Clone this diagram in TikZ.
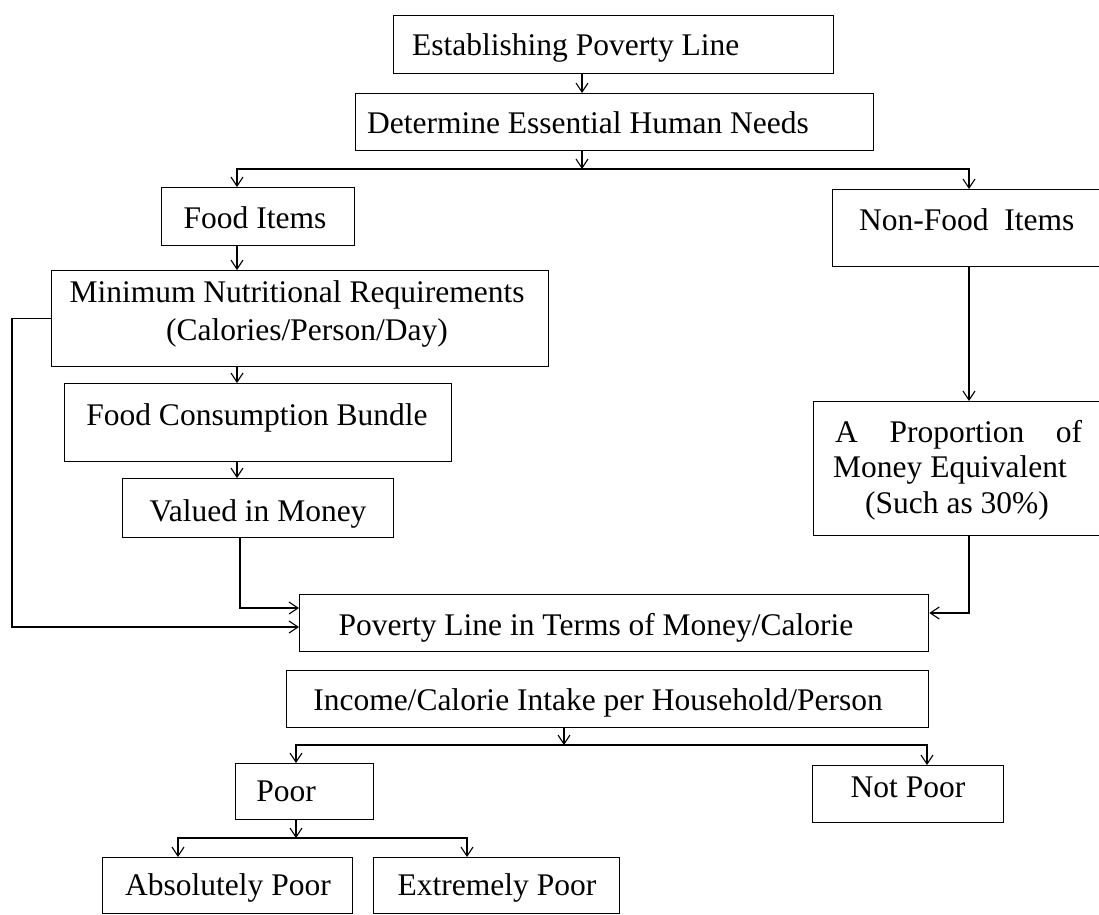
\documentclass[tikz,border=0pt]{standalone}
\usepackage{fontspec}
\setmainfont{Liberation Serif}
\usetikzlibrary{arrows.meta,calc}
\begin{document}
\begin{tikzpicture}[x=1pt,y=-1pt,
  box/.style={draw, line width=1.3pt, inner sep=0pt, anchor=north west},
  lbl/.style={inner sep=0pt, font=\fontsize{31.5}{37}\selectfont, anchor=base},
  conn/.style={line width=1.3pt, -{Straight Barb[length=9pt,width=12pt,line width=1.1pt]}}]
\useasboundingbox (0,0) rectangle (1099,914);

% boxes (top-left corner, width, height)
\node[box, minimum width=440pt, minimum height=58pt] (b1) at (393,15) {};
\node[box, minimum width=518pt, minimum height=57pt] (b2) at (355,93) {};
\node[box, minimum width=193pt, minimum height=58pt] (food) at (161,187) {};
\node[box, minimum width=280pt, minimum height=77pt] (nonfood) at (832,189) {};
\node[box, minimum width=497pt, minimum height=96pt] (mnr) at (51,270) {};
\node[box, minimum width=387pt, minimum height=78pt] (fcb) at (64,383) {};
\node[box, minimum width=271pt, minimum height=59pt] (vim) at (122,478) {};
\node[box, minimum width=300pt, minimum height=134pt] (aprop) at (813,401) {};
\node[box, minimum width=629pt, minimum height=57pt] (pl) at (299,594) {};
\node[box, minimum width=642pt, minimum height=57pt] (inc) at (286,670) {};
\node[box, minimum width=138pt, minimum height=56pt] (poor) at (235,763) {};
\node[box, minimum width=191pt, minimum height=57pt] (notpoor) at (812,765) {};
\node[box, minimum width=250pt, minimum height=56pt] (abs) at (102,857) {};
\node[box, minimum width=246pt, minimum height=56pt] (ext) at (373,857) {};

% box texts
\node[lbl, anchor=base west] (t1) at (412,55) {Establishing Poverty Line};
\node[lbl] (t2) at (588,133) {Determine Essential Human Needs};
\node[lbl] (tfood) at (255,228) {Food Items};
\node[lbl, anchor=base west] (tnon) at (859,230) {Non-Food\ \ Items};
\node[lbl] (tmnr1) at (297,302) {Minimum Nutritional Requirements};
\node[lbl] (tmnr2) at (307,340) {(Calories/Person/Day)};
\node[lbl] (tfcb) at (257,425) {Food Consumption Bundle};
\node[lbl] (tvim) at (258,521) {Valued in Money};
\node[lbl, anchor=base west] (ta1) at (835,442) {\hbox to 247pt{A\hfill Proportion\hfill of}};
\node[lbl, anchor=base west] (ta2) at (833,477) {Money Equivalent};
\node[lbl] (ta3) at (957,513) {(Such as 30\%)};
\node[lbl] (tpl) at (596,635) {Poverty Line in Terms of Money/Calorie};
\node[lbl] (tinc) at (598,710) {Income/Calorie Intake per Household/Person};
\node[lbl] (tpoor) at (286,801) {Poor};
\node[lbl] (tnp) at (908,797) {Not Poor};
\node[lbl] (tabs) at (228,895) {Absolutely Poor};
\node[lbl] (txp) at (497,895) {Extremely Poor};

% junctions and connector columns
\coordinate (j1) at (582,169);
\coordinate (j2) at (564,745);
\coordinate (j3) at (296,838);
\coordinate (cf) at (237,0);
\coordinate (cn) at (969,0);
\coordinate (cv) at (240,0);
\coordinate (cp) at (296,0);
\coordinate (cnp) at (927,0);
\coordinate (ca) at (178,0);
\coordinate (ce) at (467,0);

\draw[conn] (b1.south -| j1) -- (b2.north -| j1);
\draw[conn] (b2.south -| j1) -- (j1);
\draw[conn] (j1) -| (food.north -| cf);
\draw[conn] (j1) -| (nonfood.north -| cn);
\draw[conn] (food.south -| cf) -- (mnr.north -| cf);
\draw[conn] (mnr.south -| cf) -- (fcb.north -| cf);
\draw[conn] (fcb.south -| cf) -- (vim.north -| cf);
\draw[conn] (vim.south -| cv) |- ($(pl.north west)+(0,14)$);
\draw[conn] (mnr.west) -- ++(-39,0) |- ($(pl.north west)+(0,33)$);
\draw[conn] (nonfood.south -| cn) -- (aprop.north -| cn);
\draw[conn] (aprop.south -| cn) |- ($(pl.north east)+(0,19)$);
\draw[conn] (inc.south -| j2) -- (j2);
\draw[conn] (j2) -| (poor.north -| cp);
\draw[conn] (j2) -| (notpoor.north -| cnp);
\draw[conn] (poor.south -| j3) -- (j3);
\draw[conn] (j3) -| (abs.north -| ca);
\draw[conn] (j3) -| (ext.north -| ce);
\end{tikzpicture}
\end{document}
